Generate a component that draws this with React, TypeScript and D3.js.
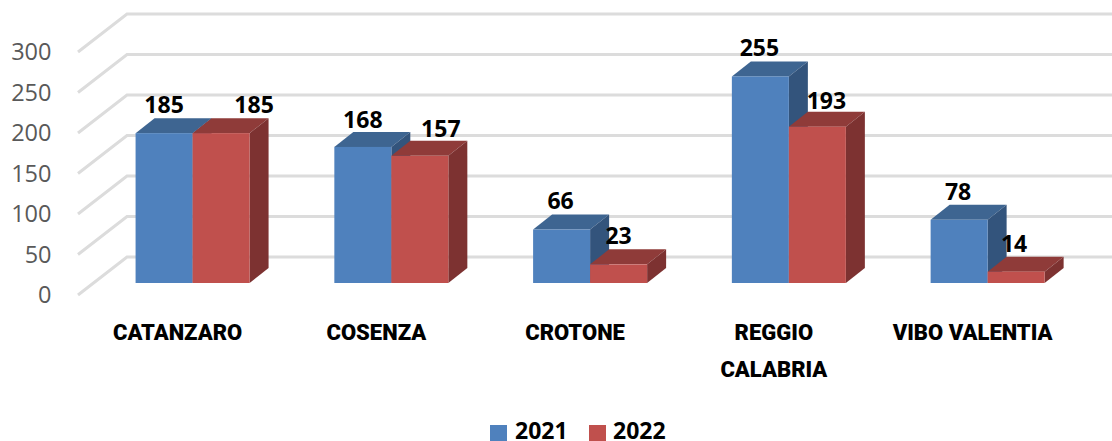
import React from "react";
import * as d3 from "d3";

const categories = ["CATANZARO", "COSENZA", "CROTONE", "REGGIO CALABRIA", "VIBO VALENTIA"];
const categoryLines = [["CATANZARO"], ["COSENZA"], ["CROTONE"], ["REGGIO", "CALABRIA"], ["VIBO VALENTIA"]];
const series2021 = [185, 168, 66, 255, 78];
const series2022 = [185, 157, 23, 193, 14];
const yTicks = [0, 50, 100, 150, 200, 250, 300];
const seriesNames = ["2021", "2022"];

// manual label nudges from bar centre (dx) and bar top (dy), as placed in the source chart
const nudge2021 = [[0, -20], [0, -19], [-1, -21], [-1, -20], [-1, -20]];
const nudge2022 = [[33, -20], [21, -19], [0, -20], [9, -18], [-2, -20]];

const W = 1112, H = 441;
const FONT = "'Open Sans', 'Noto Sans', sans-serif";
const CAT_FONT = "Roboto, 'Noto Sans', sans-serif";
const y = d3.scaleLinear().domain([0, 300]).range([283, 40]);
const x = d3.scaleBand<string>().domain(categories).range([93.2, 1087]);
const barW = 57;
const depth = { dx: 19, dy: -15 };
const wall = { x0: 78, x1: 127, dy: -38, yShift: 12, right: 1112 };

const colors = [
  { front: "#4f81bd", top: "#3e6591", side: "#33547c" },
  { front: "#c0504d", top: "#8f3b39", side: "#7d3231" },
];

function Bar({ x0, v, c }: { x0: number; v: number; c: (typeof colors)[0] }) {
  const t = y(v), b = y(0), r = x0 + barW;
  const { dx, dy } = depth;
  return (
    <g>
      <path d={`M${x0},${t}L${x0 + dx},${t + dy}L${r + dx},${t + dy}L${r},${t}Z`} fill={c.top} />
      <path d={`M${r},${t}L${r + dx},${t + dy}L${r + dx},${b + dy}L${r},${b}Z`} fill={c.side} />
      <rect x={x0} y={t} width={barW} height={b - t} fill={c.front} />
    </g>
  );
}

export default function App() {
  const line = d3.line();
  return (
    <svg width={W} height={H} style={{ position: "absolute", left: 0, top: 0, background: "#fff" }}>
      {yTicks.map((t) => {
        const yf = y(t) + wall.yShift;
        return (
          <g key={t}>
            <path
              d={line([[wall.x0, yf], [wall.x1, yf + wall.dy], [wall.right, yf + wall.dy]])!}
              fill="none"
              stroke="#dcdcdc"
              strokeWidth={3}
            />
            <text x={51.5} y={yf + 8} textAnchor="end" fontFamily={FONT} fontSize={23.5} fill="#595959">
              {t}
            </text>
          </g>
        );
      })}
      {categories.map((cat, i) => {
        const cx = x(cat)! + x.bandwidth() / 2;
        return (
          <g key={cat}>
            <Bar x0={cx - barW} v={series2021[i]} c={colors[0]} />
            <Bar x0={cx} v={series2022[i]} c={colors[1]} />
          </g>
        );
      })}
      {categories.map((cat, i) => {
        const cx = x(cat)! + x.bandwidth() / 2;
        return (
          <g key={cat} fontFamily={FONT} fontWeight={700} fontSize={23} textAnchor="middle" fill="#000">
            <text x={cx - barW / 2 + nudge2021[i][0]} y={y(series2021[i]) + nudge2021[i][1]}>{series2021[i]}</text>
            <text x={cx + barW / 2 + nudge2022[i][0]} y={y(series2022[i]) + nudge2022[i][1]}>{series2022[i]}</text>
          </g>
        );
      })}
      {categories.map((cat, i) => {
        const cx = x(cat)! + x.bandwidth() / 2 - 15;
        return (
          <text key={cat} fontFamily={CAT_FONT} fontWeight={900} fontSize={22} textAnchor="middle" fill="#000">
            {categoryLines[i].map((l, j) => (
              <tspan key={l} x={cx} y={339.5 + j * 37}>{l}</tspan>
            ))}
          </text>
        );
      })}
      {seriesNames.map((n, i) => (
        <g key={n}>
          <rect x={490 + i * 99} y={425} width={17} height={16} fill={colors[i].front} />
          <text x={515 + i * 98} y={439} fontFamily={FONT} fontWeight={700} fontSize={23} fill="#000">{n}</text>
        </g>
      ))}
    </svg>
  );
}
